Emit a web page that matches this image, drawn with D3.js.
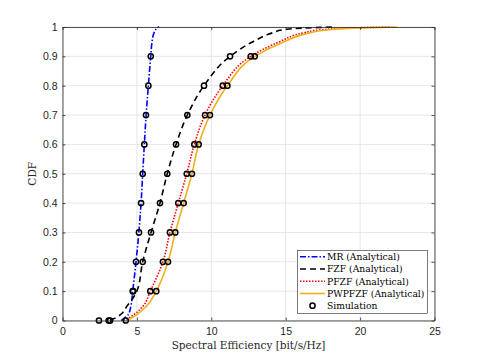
<!DOCTYPE html>
<html><head><meta charset="utf-8">
<script src="https://cdn.jsdelivr.net/npm/d3@7"></script>
<style>body{margin:0;background:#fff}svg{display:block}</style>
</head><body><svg id="c" width="480" height="360"></svg>
<script>
const cdfLevels = [0, 0.01, 0.02, 0.05, 0.1, 0.2, 0.3, 0.4, 0.5, 0.6, 0.7, 0.8, 0.9, 0.95, 0.98, 0.99, 0.997, 1];
const mrX     = [3.95, 4.2, 4.42, 4.6, 4.72, 4.94, 5.13, 5.28, 5.39, 5.5, 5.62, 5.77, 5.93, 6.02, 6.15, 6.25, 6.35, 6.5];
const fzfX    = [3.2, 3.6, 3.9, 4.35, 5.0, 5.39, 5.95, 6.55, 7.04, 7.63, 8.39, 9.51, 11.26, 12.8, 14.1, 14.8, 16.5, 18.3];
const pfzfX   = [4.1, 4.5, 4.8, 5.43, 5.9, 6.75, 7.22, 7.78, 8.35, 8.86, 9.58, 10.77, 12.65, 14.6, 16.2, 17.3, 19.5, 22.0];
const pwpfzfX = [4.3, 4.7, 5.0, 5.66, 6.3, 7.09, 7.58, 8.14, 8.7, 9.15, 9.91, 11.08, 12.92, 14.9, 16.6, 17.8, 20.0, 22.46];

const simLevels = [0, 0.1, 0.2, 0.3, 0.4, 0.5, 0.6, 0.7, 0.8, 0.9];
const mrSim     = [3.2, 4.72, 4.94, 5.14, 5.28, 5.39, 5.5, 5.61, 5.77, 5.93];
const fzfSim    = [2.45, 4.75, 5.39, 5.95, 6.55, 7.04, 7.63, 8.39, 9.51, 11.26];
const pfzfSim   = [3.1, 5.9, 6.75, 7.22, 7.78, 8.35, 8.86, 9.58, 10.77, 12.65];
const pwpfzfSim = [4.25, 6.3, 7.09, 7.58, 8.14, 8.7, 9.15, 9.91, 11.08, 12.92];

const xTicks = [0, 5, 10, 15, 20, 25];
const yTicks = [0, 0.1, 0.2, 0.3, 0.4, 0.5, 0.6, 0.7, 0.8, 0.9, 1];
const seriesNames = ["MR (Analytical)", "FZF (Analytical)", "PFZF (Analytical)", "PWPFZF (Analytical)"];
const simName = "Simulation";

const L = 62.5, R = 434.5, T = 27, B = 320.5;
const svg = d3.select("#c");
const x = d3.scaleLinear().domain([0, 25]).range([L, R]);
const y = d3.scaleLinear().domain([0, 1]).range([B, T]);
const axisColor = "#262626";

// grid
const g = svg.append("g");
g.selectAll(".gx").data(xTicks).join("line")
  .attr("x1", d => x(d)).attr("x2", d => x(d)).attr("y1", T).attr("y2", B)
  .attr("stroke", "#e6e6e6").attr("stroke-width", 1);
g.selectAll(".gy").data(yTicks).join("line")
  .attr("y1", d => y(d)).attr("y2", d => y(d)).attr("x1", L).attr("x2", R)
  .attr("stroke", "#e6e6e6").attr("stroke-width", 1);

const styles = [
  {c: "#0000ff", dash: "6,2,1.5,2", w: 1.6},
  {c: "#000000", dash: "6,4", w: 1.6},
  {c: "#ff0000", dash: "1.5,1.5", w: 1.6},
  {c: "#EDB120", dash: null, w: 1.6}
];
const xs = [mrX, fzfX, pfzfX, pwpfzfX];
const sims = [mrSim, fzfSim, pfzfSim, pwpfzfSim];

const line = d3.line().x(d => x(d[0])).y(d => y(d[1])).curve(d3.curveMonotoneY);
xs.forEach((arr, i) => {
  const pts = arr.map((v, k) => [v, cdfLevels[k]]);
  svg.append("path").attr("d", line(pts)).attr("fill", "none")
    .attr("stroke", styles[i].c).attr("stroke-width", styles[i].w)
    .attr("stroke-dasharray", styles[i].dash);
});
sims.forEach(arr => {
  svg.append("g").selectAll("circle").data(arr.map((v, k) => [v, simLevels[k]])).join("circle")
    .attr("cx", d => x(d[0])).attr("cy", d => y(d[1])).attr("r", 2.6)
    .attr("fill", "none").attr("stroke", "#000").attr("stroke-width", 1.5);
});

// axes
const xa = svg.append("g").attr("transform", `translate(0,${B})`)
  .call(d3.axisBottom(x).tickValues(xTicks).tickSizeInner(-3).tickSizeOuter(0).tickPadding(7).tickFormat(d3.format("d")));
const xaT = svg.append("g").attr("transform", `translate(0,${T})`)
  .call(d3.axisTop(x).tickValues(xTicks).tickSizeInner(-3).tickSizeOuter(0).tickFormat(""));
const ya = svg.append("g").attr("transform", `translate(${L},0)`)
  .call(d3.axisLeft(y).tickValues(yTicks).tickSizeInner(-3).tickSizeOuter(0).tickPadding(5).tickFormat(d => d === 0 || d === 1 ? d3.format("d")(d) : d3.format(".1f")(d)));
const yaR = svg.append("g").attr("transform", `translate(${R},0)`)
  .call(d3.axisRight(y).tickValues(yTicks).tickSizeInner(-3).tickSizeOuter(0).tickFormat(""));
[xa, xaT, ya, yaR].forEach(a => {
  a.selectAll("path").attr("stroke", axisColor).attr("stroke-width", 0.8);
  a.selectAll("line").attr("stroke", axisColor).attr("stroke-width", 0.8);
  a.selectAll("text").attr("fill", axisColor).style("font-family", "Liberation Sans, Arial, sans-serif").style("font-size", "10.5px");
});

svg.append("text").attr("x", (L + R) / 2).attr("y", 349).attr("text-anchor", "middle")
  .style("font-family", "DejaVu Serif, serif").style("font-size", "10.5px").attr("fill", axisColor)
  .text("Spectral Efficiency [bit/s/Hz]");
svg.append("text").attr("transform", `translate(36,${(T + B) / 2}) rotate(-90)`).attr("text-anchor", "middle")
  .style("font-family", "DejaVu Serif, serif").style("font-size", "10.5px").attr("fill", axisColor)
  .text("CDF");

// legend
const lg = svg.append("g");
lg.append("rect").attr("x", 297.5).attr("y", 250.5).attr("width", 130).attr("height", 63)
  .attr("fill", "#fff").attr("stroke", "#262626").attr("stroke-width", 0.6);
const rowY = [256.7, 269, 281.3, 293.5, 305.7];
seriesNames.forEach((n, i) => {
  lg.append("line").attr("x1", 300).attr("x2", 325).attr("y1", rowY[i]).attr("y2", rowY[i])
    .attr("stroke", styles[i].c).attr("stroke-width", styles[i].w).attr("stroke-dasharray", styles[i].dash);
  lg.append("text").attr("x", 327).attr("y", rowY[i]).attr("dy", "0.35em")
    .style("font-family", "DejaVu Serif, serif").style("font-size", "9.2px").attr("fill", "#000").text(n);
});
lg.append("circle").attr("cx", 312.5).attr("cy", rowY[4]).attr("r", 2.6).attr("fill", "none").attr("stroke", "#000").attr("stroke-width", 1.5);
lg.append("text").attr("x", 327).attr("y", rowY[4]).attr("dy", "0.35em")
  .style("font-family", "DejaVu Serif, serif").style("font-size", "9.2px").attr("fill", "#000").text(simName);
</script></body></html>
